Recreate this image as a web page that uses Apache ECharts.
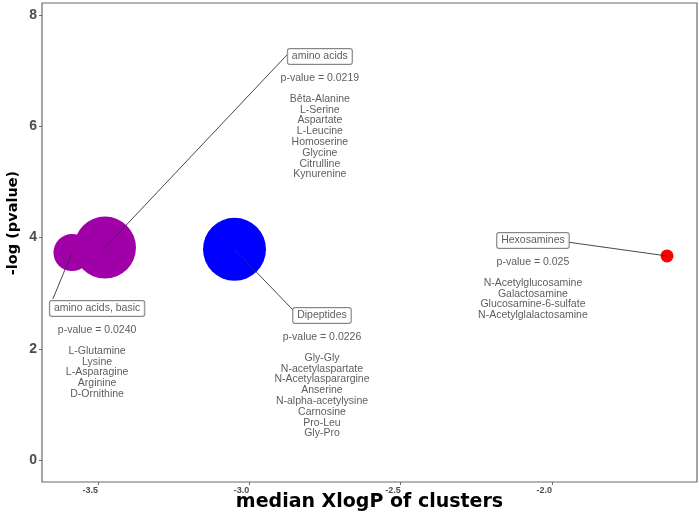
<!DOCTYPE html>
<html>
<head>
<meta charset="utf-8">
<script src="https://cdn.jsdelivr.net/npm/echarts@6/dist/echarts.min.js"></script>
<style>
  html, body { margin: 0; padding: 0; background: #fff; }
  #chart { width: 699px; height: 515px; }
</style>
</head>
<body>
<div id="chart"></div>
<script>
// cluster data
const clusterNames = ['amino acids', 'amino acids, basic', 'Dipeptides', 'Hexosamines']
const pValues = ['0.0219', '0.0240', '0.0226', '0.025']
const medianXlogP = [-3.477, -3.586, -3.049, -1.620]
const negLogP = [3.82, 3.73, 3.79, 3.67]
const bubbleSize = [62, 37, 63, 13]
const clusterColors = ['#A000A8', '#A000A8', '#0000FF', '#FF0000']
const members = [
  ['Bêta-Alanine', 'L-Serine', 'Aspartate', 'L-Leucine', 'Homoserine', 'Glycine', 'Citrulline', 'Kynurenine'],
  ['L-Glutamine', 'Lysine', 'L-Asparagine', 'Arginine', 'D-Ornithine'],
  ['Gly-Gly', 'N-acetylaspartate', 'N-Acetylasparargine', 'Anserine', 'N-alpha-acetylysine', 'Carnosine', 'Pro-Leu', 'Gly-Pro'],
  ['N-Acetylglucosamine', 'Galactosamine', 'Glucosamine-6-sulfate', 'N-Acetylglalactosamine']
]

// axis ticks
const xTicks = [-3.5, -3.0, -2.5, -2.0]
const yTicks = [0, 2, 4, 6, 8]

// where the repelled labels sit (top centre of each label block, data units)
const labelAnchor = [[-2.767, 7.383], [-3.503, 2.851], [-2.760, 2.725], [-2.063, 4.074]]
// connector segments: start, end (data units)
const connectors = [
  [[-3.477, 3.82], [-2.876, 7.284]],
  [[-3.586, 3.73], [-3.649, 2.896]],
  [[-3.049, 3.79], [-2.856, 2.698]],
  [[-1.951, 3.921], [-1.620, 3.67]]
]

const chart = echarts.init(document.getElementById('chart'))

const labelFont = 'Liberation Sans, Arial, sans-serif'
const titleFont = 'Arial Black, DejaVu Sans, sans-serif'

const option = {
  animation: false,
  grid: {
    left: 42, right: 2, top: 3, bottom: 33,
    outerBoundsMode: 'none',
    show: true, borderColor: '#6b6b6b', borderWidth: 1.2
  },
  xAxis: {
    type: 'value',
    min: -3.685,
    max: -1.521,
    name: 'median XlogP of clusters',
    nameLocation: 'middle',
    nameMoveOverlap: false,
    nameGap: 11,
    nameTextStyle: { fontFamily: titleFont, fontWeight: 'bold', fontSize: 19, color: '#000' },
    axisLine: { show: false, onZero: false },
    axisTick: { show: true, length: 3, customValues: xTicks, lineStyle: { color: '#6b6b6b' } },
    axisLabel: {
      customValues: xTicks,
      formatter: (v) => v.toFixed(1),
      align: 'right',
      margin: 4,
      fontFamily: labelFont, fontWeight: 'bold', fontSize: 9, color: '#4d4d4d'
    },
    splitLine: { show: false }
  },
  yAxis: {
    type: 'value',
    min: -0.396,
    max: 8.22,
    name: '-log (pvalue)',
    nameLocation: 'middle',
    nameMoveOverlap: false,
    nameGap: 21,
    nameRotate: 90,
    nameTextStyle: {
      fontFamily: titleFont, fontWeight: 'bold', fontSize: 14.5, color: '#000',
      padding: [0, 0, 0, 39]
    },
    axisLine: { show: false, onZero: false },
    axisTick: { show: true, length: 3, customValues: yTicks, lineStyle: { color: '#6b6b6b' } },
    axisLabel: {
      customValues: yTicks,
      margin: 5,
      fontFamily: labelFont, fontWeight: 'bold', fontSize: 14, color: '#4d4d4d'
    },
    splitLine: { show: false }
  },
  series: [
    {
      type: 'scatter',
      z: 2,
      data: medianXlogP.map((x, i) => ({
        value: [x, negLogP[i], bubbleSize[i]],
        itemStyle: { color: clusterColors[i], opacity: 1 }
      })),
      symbolSize: (val) => val[2]
    },
    {
      type: 'lines',
      coordinateSystem: 'cartesian2d',
      z: 3,
      silent: true,
      lineStyle: { color: '#333', width: 0.9, opacity: 1 },
      data: connectors.map((c) => ({ coords: c }))
    },
    {
      type: 'scatter',
      z: 4,
      symbolSize: 0,
      silent: true,
      data: labelAnchor.map((p, i) => ({ value: p, idx: i })),
      label: {
        show: true,
        position: 'bottom',
        distance: 0,
        align: 'center',
        fontFamily: labelFont,
        formatter: (params) => {
          const i = params.dataIndex
          const lines = ['{box|' + clusterNames[i] + '}', '{pv|p-value = ' + pValues[i] + '}']
          members[i].forEach((m) => lines.push('{g|' + m + '}'))
          return lines.join('\n')
        },
        rich: {
          box: {
            fontFamily: labelFont, fontSize: 10.5, color: '#333',
            borderColor: '#666', borderWidth: 1, borderRadius: 2,
            padding: [2, 4, 2, 4], lineHeight: 14, backgroundColor: '#fff'
          },
          pv: { fontFamily: labelFont, fontSize: 10.5, color: '#333', lineHeight: 30 },
          g: { fontFamily: labelFont, fontSize: 10.5, color: '#333', lineHeight: 10.8 }
        }
      }
    }
  ]
}

chart.setOption(option)
</script>
</body>
</html>
